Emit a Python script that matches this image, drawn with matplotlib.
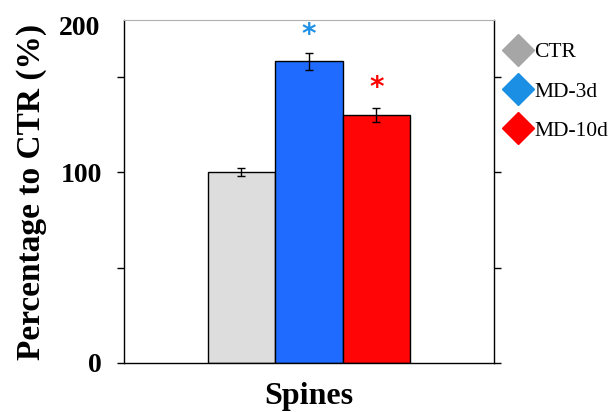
import matplotlib
matplotlib.use("Agg")
import matplotlib.pyplot as plt
from matplotlib.lines import Line2D

# data
groups = ["CTR", "MD-3d", "MD-10d"]
values = [100, 158, 130]
errors = [2, 4.5, 3.7]
star_y = [None, 172, 144]  # significance marks
bar_colors = ["#dcdddc", "#1f6bff", "#ff0505"]
legend_colors = ["#a6a6a6", "#1a8fe3", "#ff0000"]
star_colors = [None, "#1e90e8", "#ff0000"]

plt.rcParams["font.family"] = ["Liberation Serif", "DejaVu Serif"]
plt.rcParams["font.weight"] = "bold"

fig = plt.figure(figsize=(6.09, 4.12), dpi=100)
ax = fig.add_axes([0.2036, 0.119, 0.607, 0.832])

xs = [-1, 0, 1]
ax.bar(xs, values, width=1.0, color=bar_colors, edgecolor="black", linewidth=1,
       yerr=errors, capsize=3, error_kw=dict(elinewidth=1, capthick=1, ecolor="black"))

for x, y, c in zip(xs, star_y, star_colors):
    if y is not None:
        ax.text(x, y, "*", color=c, ha="center", va="center", fontsize=20,
                fontfamily="DejaVu Sans", fontweight="bold")

ax.set_xlim(-2.74, 2.74)
ax.set_ylim(0, 179.6)
ax.set_xticks([])
ax.set_yticks([0, 50, 100, 150])
ax.set_yticklabels(["0", "", "100", ""], fontsize=20, fontweight="bold")
ax.tick_params(axis="y", direction="out", length=5, width=1, right=True, pad=11)
ax.text(-0.12, 175, "200", transform=ax.get_yaxis_transform(), ha="center", va="center",
        fontsize=20, fontweight="bold")

ax.spines["top"].set_color("#b0b0b0")
for s in ["left", "right", "bottom"]:
    ax.spines[s].set_linewidth(1)

ax.set_ylabel("Percentage to CTR (%)", fontsize=24, fontweight="bold", labelpad=10)
ax.set_xlabel("Spines", fontsize=23, fontweight="bold", labelpad=14)

handles = [Line2D([], [], marker="D", linestyle="none", markersize=16,
                  markerfacecolor=c, markeredgecolor=c) for c in legend_colors]
fig.legend(handles, groups, loc="upper left", bbox_to_anchor=(0.798, 0.945),
           frameon=False, handletextpad=0.15, labelspacing=0.9,
           handlelength=1.2, prop=dict(weight="normal", size=15.5))

fig.savefig("out.png", dpi=100)
